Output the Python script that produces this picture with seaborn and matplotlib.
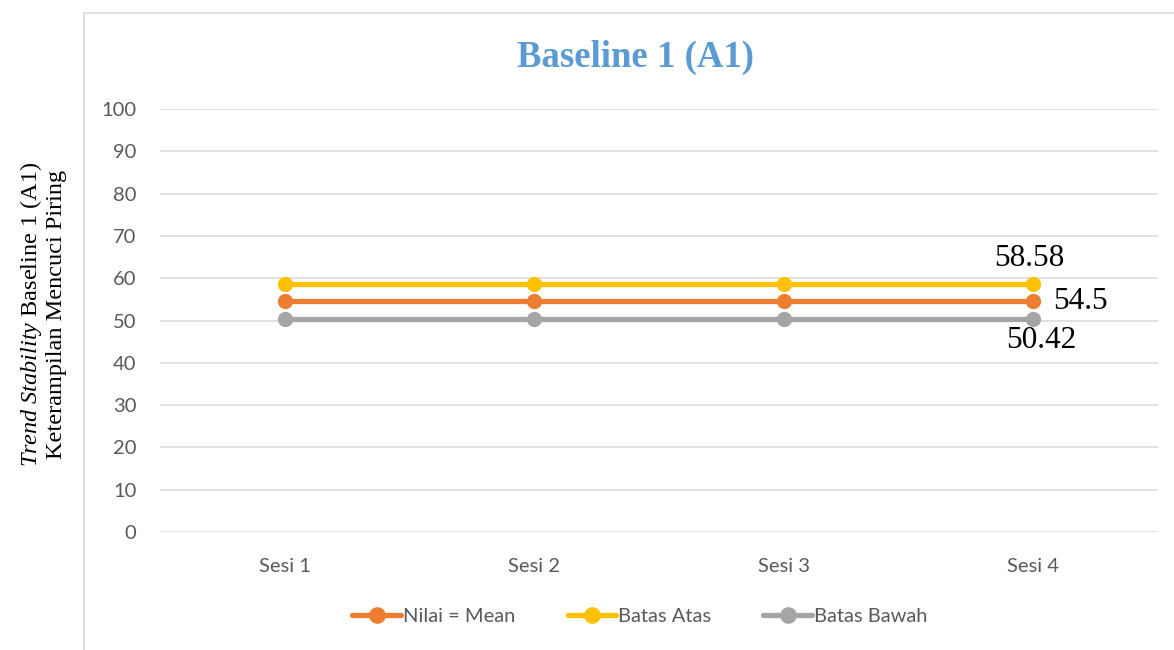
import matplotlib
matplotlib.use("Agg")
import matplotlib.pyplot as plt
import pandas as pd
import seaborn as sns
from matplotlib.lines import Line2D

# Session categories and series values
sessions = ["Sesi 1", "Sesi 2", "Sesi 3", "Sesi 4"]
mean_vals = [54.5, 54.5, 54.5, 54.5]
upper_vals = [58.58, 58.58, 58.58, 58.58]
lower_vals = [50.42, 50.42, 50.42, 50.42]
series_names = ["Nilai = Mean", "Batas Atas", "Batas Bawah"]
y_ticks = [0, 10, 20, 30, 40, 50, 60, 70, 80, 90, 100]

colors = {"Nilai = Mean": "#ED7D31", "Batas Atas": "#FFC000", "Batas Bawah": "#A5A5A5"}

df = pd.DataFrame({
    "Sesi": sessions * 3,
    "Nilai": mean_vals + upper_vals + lower_vals,
    "Seri": [series_names[0]] * 4 + [series_names[1]] * 4 + [series_names[2]] * 4,
})
df["pos"] = df["Sesi"].map({s: i for i, s in enumerate(sessions)})

sns.set_style("white")
plt.rcParams["font.family"] = ["Lato", "DejaVu Sans"]
plt.rcParams["mathtext.fontset"] = "custom"
plt.rcParams["mathtext.rm"] = "Liberation Serif"
plt.rcParams["mathtext.it"] = "Liberation Serif:italic"

fig = plt.figure(figsize=(11.74, 6.5), dpi=100)
ax = fig.add_axes([0.1363, 0.1815, 0.8501, 0.6508])

sns.lineplot(data=df, x="pos", y="Nilai", hue="Seri", palette=colors,
             hue_order=series_names, marker="o", markersize=11,
             markeredgewidth=0, linewidth=3.8, ax=ax, legend=False)

ax.set_xlim(-0.5, 3.5)
ax.set_ylim(0, 100)
ax.set_yticks(y_ticks)
ax.set_xticks(range(len(sessions)))
ax.set_xticklabels(sessions)
ax.grid(axis="y", color="#D9D9D9", linewidth=1.1)
ax.set_axisbelow(True)
for side in ["left", "right", "top", "bottom"]:
    ax.spines[side].set_visible(False)
ax.tick_params(axis="both", length=0, labelsize=14.5, labelcolor="#595959")
ax.tick_params(axis="x", pad=19)
ax.tick_params(axis="y", pad=17)
ax.set_xlabel("")
ax.set_ylabel("")

# Value labels on the last session
last = len(sessions) - 1
ax.annotate(f"{upper_vals[last]:g}", (last, upper_vals[last]), xytext=(-3, 8),
            textcoords="offset points", ha="center", va="bottom",
            family="Liberation Serif", fontsize=22.5, color="black")
ax.annotate(f"{mean_vals[last]:g}", (last, mean_vals[last]), xytext=(14, 0),
            textcoords="offset points", ha="left", va="center",
            family="Liberation Serif", fontsize=22.5, color="black")
ax.annotate(f"{lower_vals[last]:g}", (last, lower_vals[last]), xytext=(6, -5),
            textcoords="offset points", ha="center", va="top",
            family="Liberation Serif", fontsize=22.5, color="black")

# Title
fig.text(0.541, 0.912, "Baseline 1 (A1)", ha="center", va="center",
         family="Liberation Serif", fontweight="bold", fontsize=26.5, color="#5B9BD5")

# Two-line vertical axis title
fig.text(0.0265, 0.517, r"$\mathit{Trend\ Stability}$ Baseline 1 (A1)", rotation=90,
         ha="center", va="center", family="Liberation Serif", fontsize=17.5, color="black")
fig.text(0.0480, 0.517, "Keterampilan Mencuci Piring", rotation=90,
         ha="center", va="center", family="Liberation Serif", fontsize=17.5, color="black")

# Legend
handles = [Line2D([0], [0], color=colors[n], linewidth=3.8, marker="o",
                  markersize=12, markeredgewidth=0) for n in series_names]
leg = fig.legend(handles, series_names, loc="center", bbox_to_anchor=(0.545, 0.051),
                 ncol=3, frameon=False, fontsize=14.5, handlelength=2.4,
                 handletextpad=0.1, columnspacing=2.6)
for t in leg.get_texts():
    t.set_color("#595959")

# Chart area border
bx = 84 / 1174
by = 1 - 13 / 650
fig.add_artist(Line2D([bx, bx], [0, by], transform=fig.transFigure, color="#D9D9D9", linewidth=1.2))
fig.add_artist(Line2D([bx, 1], [by, by], transform=fig.transFigure, color="#D9D9D9", linewidth=1.2))

fig.savefig("out.png", dpi=100)
